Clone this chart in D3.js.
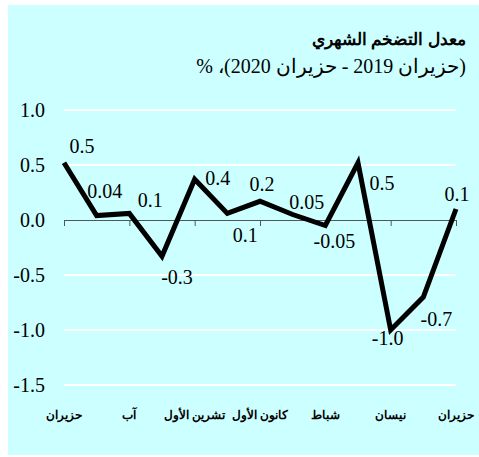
<!DOCTYPE html>
<html>
<head>
<meta charset="utf-8">
<script src="https://cdn.jsdelivr.net/npm/d3@7"></script>
<style>
  body { margin: 0; background: #fff; }
  svg { display: block; }
</style>
</head>
<body>
<svg></svg>
<script>
const width = 479;
const height = 457;

const title = 'معدل التضخم الشهري';
const subtitle = '(حزيران 2019 - حزيران 2020)، %';

// monthly inflation, June 2019 .. June 2020
const values = [0.52, 0.04, 0.06, -0.33, 0.37, 0.06, 0.17, 0.05, -0.05, 0.52, -1.0, -0.7, 0.1];
const valueLabels = ['0.5', '0.04', '0.1', '-0.3', '0.4', '0.1', '0.2', '0.05', '-0.05', '0.5', '-1.0', '-0.7', '0.1'];
const monthLabels = ['حزيران', '', 'آب', '', 'تشرين الأول', '', 'كانون الأول', '', 'شباط', '', 'نيسان', '', 'حزيران'];
const yTicks = [1.0, 0.5, 0.0, -0.5, -1.0, -1.5];

// label offsets from each point [dx, dy]
const labelOffsets = [
  [18, -10], [8, -18], [21, -6], [15, 28], [23, 6], [18, 29],
  [2, -10], [14, -6], [9, 22], [24, 27], [-3, 15], [13, 29], [1, -8]
];

const svg = d3.select('svg').attr('width', width).attr('height', height);

svg.append('rect')
  .attr('x', 8).attr('y', 5)
  .attr('width', width - 8).attr('height', 450)
  .attr('fill', '#ccffff');

svg.append('text')
  .attr('x', 466).attr('y', 45)
  .attr('direction', 'rtl')
  .attr('text-anchor', 'start')
  .style('font-family', 'Liberation Sans, Arial, sans-serif')
  .style('font-weight', 'bold')
  .style('font-size', '17px')
  .text(title);

svg.append('text')
  .attr('x', 466).attr('y', 73)
  .attr('text-anchor', 'start')
  .attr('direction', 'rtl')
  .style('font-family', 'Liberation Serif, Times New Roman, serif')
  .style('font-size', '20px')
  .text(subtitle);

const x = d3.scaleLinear().domain([0, values.length - 1]).range([64, 456]);
const y = d3.scaleLinear().domain([-1.5, 1.0]).range([385, 110]);

// white gridlines
svg.append('g')
  .selectAll('line')
  .data(yTicks.filter(d => d !== 0))
  .enter().append('line')
  .attr('x1', 64).attr('x2', 456)
  .attr('y1', d => y(d)).attr('y2', d => y(d))
  .attr('stroke', '#fff')
  .attr('stroke-width', 2);

// y labels
svg.append('g')
  .selectAll('text')
  .data(yTicks)
  .enter().append('text')
  .attr('x', 45)
  .attr('y', d => y(d) + 7)
  .attr('text-anchor', 'end')
  .style('font-family', 'Liberation Serif, Times New Roman, serif')
  .style('font-size', '20px')
  .text(d => d3.format('.1f')(d).replace('−', '-'));

// zero axis with ticks every two months
const xAxis = d3.axisBottom(x)
  .tickValues(d3.range(0, values.length, 2))
  .tickSize(6)
  .tickFormat('');
const axisG = svg.append('g')
  .attr('transform', `translate(0,${y(0)})`)
  .call(xAxis);
axisG.select('.domain').attr('stroke', '#555').attr('stroke-width', 1);
axisG.selectAll('.tick line').attr('stroke', '#555');

// month labels
svg.append('g')
  .selectAll('text')
  .data(monthLabels)
  .enter().append('text')
  .attr('x', (d, i) => x(i))
  .attr('y', 419)
  .attr('text-anchor', 'middle')
  .style('font-family', 'Liberation Sans, Arial, sans-serif')
  .style('font-weight', 'bold')
  .style('font-size', '12px')
  .text(d => d);

// line
const line = d3.line()
  .x((d, i) => x(i))
  .y(d => y(d));

svg.append('path')
  .datum(values)
  .attr('d', line)
  .attr('fill', 'none')
  .attr('stroke', '#000')
  .attr('stroke-width', 5)
  .attr('stroke-linejoin', 'miter');

// value labels
svg.append('g')
  .selectAll('text')
  .data(values)
  .enter().append('text')
  .attr('x', (d, i) => x(i) + labelOffsets[i][0])
  .attr('y', (d, i) => y(d) + labelOffsets[i][1])
  .attr('text-anchor', 'middle')
  .style('font-family', 'Liberation Serif, Times New Roman, serif')
  .style('font-size', '20px')
  .text((d, i) => valueLabels[i]);
</script>
</body>
</html>
